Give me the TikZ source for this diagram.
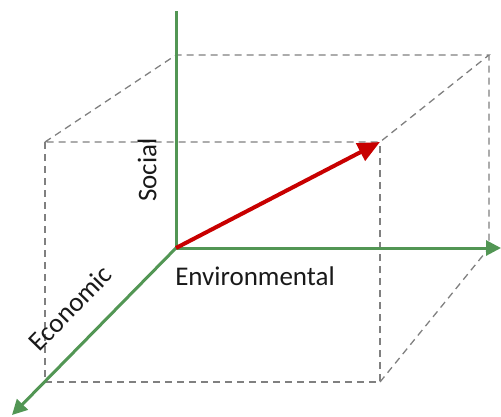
\documentclass[tikz,border=0pt]{standalone}
\usepackage{fontspec}
\setmainfont{Carlito}
\usetikzlibrary{arrows.meta}
\definecolor{axisgreen}{RGB}{82,150,84}
\definecolor{vecred}{RGB}{200,0,0}
\definecolor{boxgray}{RGB}{128,128,128}
\definecolor{txt}{RGB}{25,25,25}
\tikzset{
  axisline/.style={draw=axisgreen, line width=3pt},
  axisarrow/.style={axisline, -{Triangle[length=15pt,width=15pt]}},
  boxline/.style={draw=boxgray, line width=1.3pt, dash pattern=on 7pt off 5pt},
  vecarrow/.style={draw=vecred, line width=4pt, -{Triangle[length=22pt,width=19pt]}},
  lbl/.style={text=txt, font=\fontsize{27}{30}\selectfont, inner sep=0pt}
}
\begin{document}
\begin{tikzpicture}[x=1pt,y=-1pt]
\useasboundingbox (0,0) rectangle (501,416);
% box corners
\coordinate (O) at (176,248);
\coordinate (BTL) at (176,55);
\coordinate (BTR) at (489,55);
\coordinate (BBR) at (489,248);
\coordinate (FTL) at (45,142);
\coordinate (FTR) at (380,142);
\coordinate (FBR) at (380,382);
\coordinate (FBL) at (45,382);
% axis ends
\coordinate (Ztop) at (176,11);
\coordinate (Xend) at (501,248);
\coordinate (Yend) at (12,415);
% dashed box
\draw[boxline] (FTL) -- (BTL) -- (BTR) -- (FTR) -- cycle;
\draw[boxline] (FTL) -- (FBL) -- (FBR) -- (FTR);
\draw[boxline] (FBR) -- (BBR) -- (BTR);
% axes
\draw[axisline] (O) -- (Ztop);
\draw[axisarrow] (O) -- (Xend);
\draw[axisarrow] (O) -- (Yend);
% vector
\draw[vecarrow] (O) -- (FTR);
% labels
\node[lbl, rotate=90] (social) at (147,170) {Social};
\node[lbl] (env) at (255,276) {Environmental};
\node[lbl, rotate=45.7] (eco) at (70,308) {Economic};
\end{tikzpicture}
\end{document}
